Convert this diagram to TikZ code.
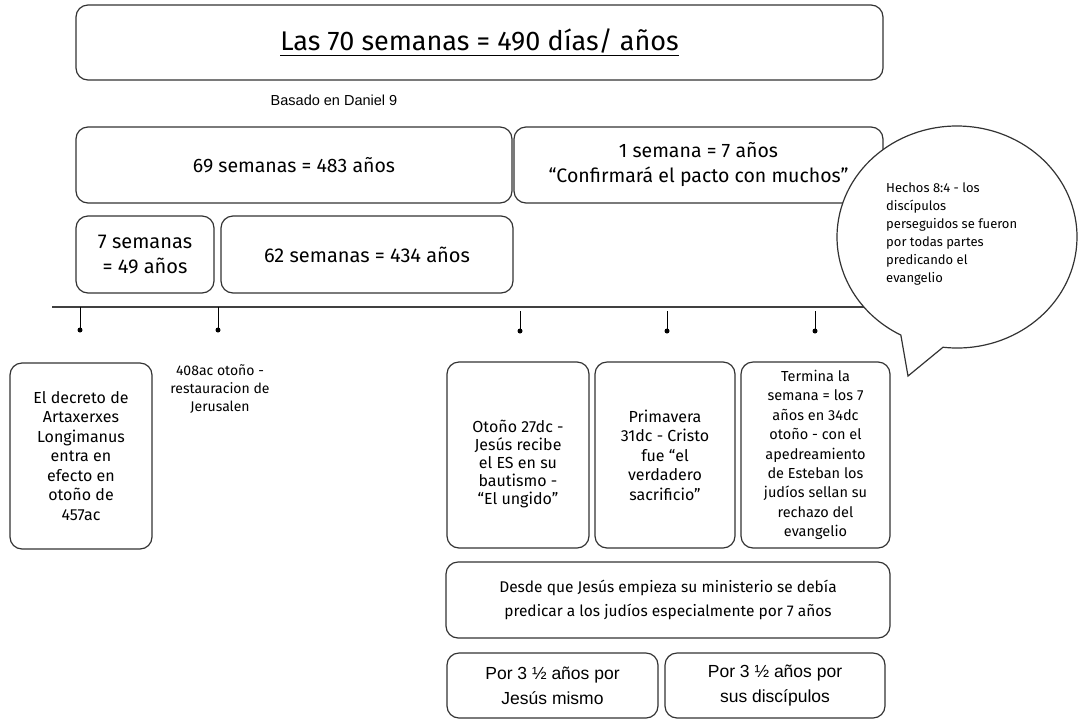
\documentclass[tikz,border=0pt]{standalone}
\usepackage{fontspec}
\setmainfont{Fira Sans}
\newfontfamily\arialfont{Liberation Sans}
\usepackage{xcolor}
\usepackage{tikz}

\begin{document}
\begin{tikzpicture}[x=1pt, y=-1pt,
    box/.style={draw=black!80, line width=1.2pt, rounded corners=12pt, align=center, inner sep=2pt},
    tick/.style={draw=black, line width=1pt},
    dot/.style={circle, fill=black, inner sep=0pt, minimum size=5pt}]
        \useasboundingbox (0,0) rectangle (1078,721);

        % Título y filas de semanas
        \node[box, minimum width=807pt, minimum height=75pt, font=\fontsize{27}{32}\selectfont] (title) at (479.5,42.5) {\underline{Las 70 semanas = 490 días/ años}};
        \node[font=\arialfont\fontsize{14.5}{17}\selectfont] (basado) at (334,100) {Basado en Daniel 9};
        \node[box, minimum width=436pt, minimum height=76pt, font=\fontsize{19.5}{25}\selectfont] (w69) at (294,165) {69 semanas = 483 años};
        \node[box, minimum width=369pt, minimum height=76pt, font=\fontsize{19.5}{25}\selectfont] (w1) at (698.5,165) {1 semana = 7 años\\ “Confirmará el pacto con muchos”};
        \node[box, minimum width=138pt, minimum height=77pt, font=\fontsize{20}{25}\selectfont] (w7) at (145,254.5) {7 semanas\\ = 49 años};
        \node[box, minimum width=292pt, minimum height=77pt, font=\fontsize{20}{25}\selectfont] (w62) at (367,254.5) {62 semanas = 434 años};

        % Línea de tiempo
        \coordinate (l0) at (52,307);
        \coordinate (l1) at (900,307);
        \draw[black!75, line width=1.6pt] (l0) -- (l1);
        \coordinate (t1) at (80,307);  \node[dot] (d1) at (80,330) {};
        \coordinate (t2) at (218,307); \node[dot] (d2) at (218,330) {};
        \coordinate (t3) at (520,311); \node[dot] (d3) at (520,331) {};
        \coordinate (t4) at (667,311); \node[dot] (d4) at (667,331) {};
        \coordinate (t5) at (815,311); \node[dot] (d5) at (815,331) {};
        \foreach \i in {1,...,5}
            \draw[tick] (t\i) -- (d\i.center);

        % Eventos
        \node[box, minimum width=142pt, minimum height=186pt, font=\fontsize{16}{19.5}\selectfont] (decreto) at (81,456) {El decreto de\\ Artaxerxes\\ Longimanus\\ entra en\\ efecto en\\ otoño de\\ 457ac};
        \node[align=center, font=\fontsize{14}{18}\selectfont] (restaura) at (220,389) {408ac otoño -\\ restauracion de\\ Jerusalen};
        \node[box, minimum width=142pt, minimum height=186pt, font=\fontsize{16}{18}\selectfont] (otono) at (518,455) {\rule{0pt}{30pt}Otoño 27dc -\\ Jesús recibe\\ el ES en su\\ bautismo -\\ “El ungido”};
        \node[box, minimum width=140pt, minimum height=186pt, font=\fontsize{16}{19.5}\selectfont] (prima) at (665,455) {Primavera\\ 31dc - Cristo\\ fue “el\\ verdadero\\ sacrificio"};
        \node[box, minimum width=149pt, minimum height=186pt, font=\fontsize{14.5}{19.4}\selectfont] (termina) at (815.5,455) {Termina la\\ semana = los 7\\ años en 34dc\\ otoño - con el\\ apedreamiento\\ de Esteban los\\ judíos sellan su\\ rechazo del\\ evangelio};

        % Los 7 años
        \node[box, minimum width=444pt, minimum height=76pt, font=\fontsize{15.5}{24}\selectfont] (desde) at (668,600) {Desde que Jesús empieza su ministerio se debía\\ predicar a los judíos especialmente por 7 años};
        \node[box, minimum width=211pt, minimum height=65pt, font=\arialfont\fontsize{17.5}{25}\selectfont] (jesus) at (552.5,685.5) {Por 3 ½ años por\\ Jesús mismo};
        \node[box, minimum width=220pt, minimum height=65pt, font=\arialfont\fontsize{17.5}{25}\selectfont] (discip) at (775,685.5) {Por 3 ½ años por\\ sus discípulos};

        % Globo de Hechos 8:4
        \coordinate (gc) at (957,237);
        \coordinate (punta) at (908,376);
        \draw[draw=black!80, line width=1.2pt, fill=white] (gc) ++(96.7:120 and 111) arc[start angle=96.7, end angle=-242.1, x radius=120, y radius=111] -- (punta) -- cycle;
        \node[anchor=north west, align=left, inner sep=0pt, font=\fontsize{13}{18}\selectfont] (hechos) at (886,183) {Hechos 8:4 - los\\ discípulos\\ perseguidos se fueron\\ por todas partes\\ predicando el\\ evangelio};
    \end{tikzpicture}
\end{document}
